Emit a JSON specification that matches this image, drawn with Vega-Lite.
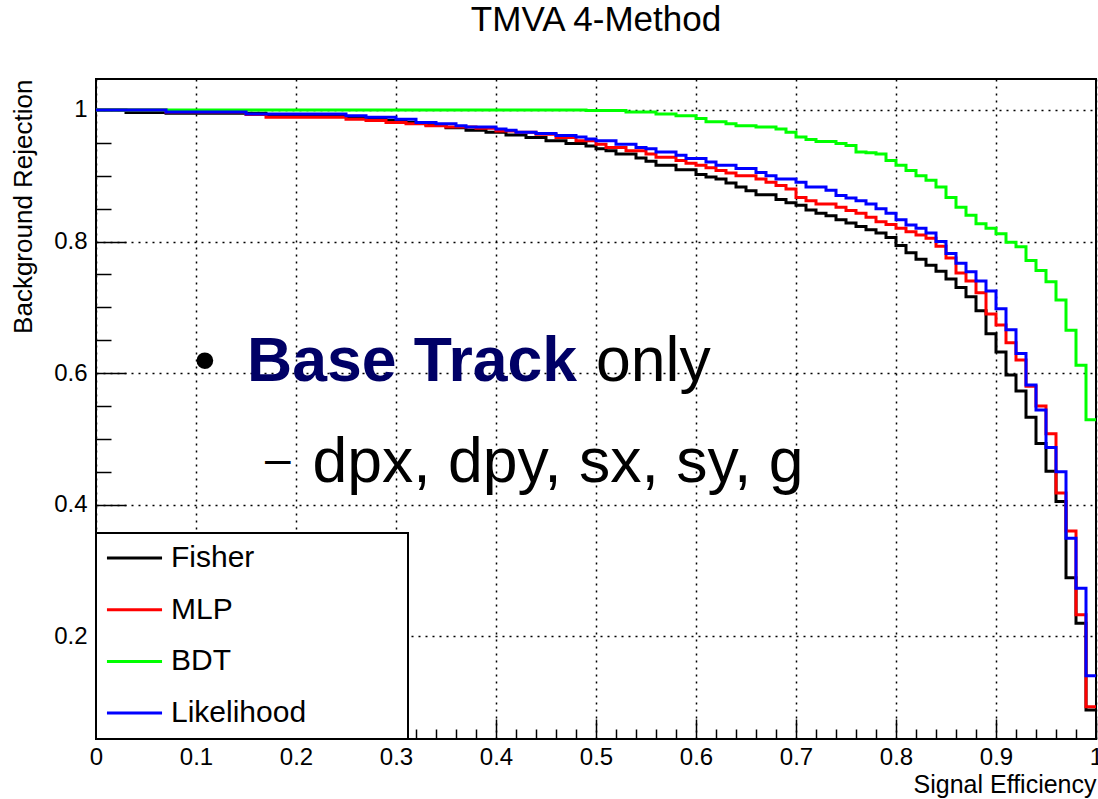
{
  "$schema": "https://vega.github.io/schema/vega-lite/v6.json",
  "width": 1000,
  "height": 660,
  "autosize": {"type": "none"},
  "padding": {"left": 96, "top": 79, "right": 2, "bottom": 60},
  "background": "white",
  "title": {"text": "TMVA 4-Method", "fontSize": 35, "font": "Liberation Sans", "fontWeight": "normal", "color": "black", "anchor": "middle", "baseline": "alphabetic", "offset": 13},
  "data": {"values": [
    {"m":"Fisher","x":0,"y":1},{"m":"Fisher","x":0.03,"y":0.996},{"m":"Fisher","x":0.07,"y":0.995},{"m":"Fisher","x":0.17,"y":0.993},{"m":"Fisher","x":0.22,"y":0.99},{"m":"Fisher","x":0.26,"y":0.987},{"m":"Fisher","x":0.29,"y":0.984},{"m":"Fisher","x":0.31,"y":0.981},{"m":"Fisher","x":0.33,"y":0.977},{"m":"Fisher","x":0.35,"y":0.973},{"m":"Fisher","x":0.37,"y":0.969},{"m":"Fisher","x":0.39,"y":0.966},{"m":"Fisher","x":0.41,"y":0.962},{"m":"Fisher","x":0.43,"y":0.958},{"m":"Fisher","x":0.45,"y":0.953},{"m":"Fisher","x":0.47,"y":0.949},{"m":"Fisher","x":0.49,"y":0.945},{"m":"Fisher","x":0.5,"y":0.941},{"m":"Fisher","x":0.51,"y":0.938},{"m":"Fisher","x":0.52,"y":0.933},{"m":"Fisher","x":0.54,"y":0.927},{"m":"Fisher","x":0.55,"y":0.922},{"m":"Fisher","x":0.56,"y":0.916},{"m":"Fisher","x":0.58,"y":0.909},{"m":"Fisher","x":0.6,"y":0.902},{"m":"Fisher","x":0.61,"y":0.898},{"m":"Fisher","x":0.62,"y":0.895},{"m":"Fisher","x":0.63,"y":0.889},{"m":"Fisher","x":0.64,"y":0.883},{"m":"Fisher","x":0.65,"y":0.877},{"m":"Fisher","x":0.66,"y":0.871},{"m":"Fisher","x":0.68,"y":0.864},{"m":"Fisher","x":0.69,"y":0.859},{"m":"Fisher","x":0.7,"y":0.855},{"m":"Fisher","x":0.71,"y":0.848},{"m":"Fisher","x":0.72,"y":0.843},{"m":"Fisher","x":0.73,"y":0.839},{"m":"Fisher","x":0.74,"y":0.833},{"m":"Fisher","x":0.75,"y":0.828},{"m":"Fisher","x":0.76,"y":0.823},{"m":"Fisher","x":0.77,"y":0.818},{"m":"Fisher","x":0.78,"y":0.813},{"m":"Fisher","x":0.79,"y":0.806},{"m":"Fisher","x":0.8,"y":0.794},{"m":"Fisher","x":0.81,"y":0.783},{"m":"Fisher","x":0.82,"y":0.773},{"m":"Fisher","x":0.83,"y":0.764},{"m":"Fisher","x":0.84,"y":0.755},{"m":"Fisher","x":0.85,"y":0.743},{"m":"Fisher","x":0.86,"y":0.73},{"m":"Fisher","x":0.87,"y":0.716},{"m":"Fisher","x":0.88,"y":0.695},{"m":"Fisher","x":0.89,"y":0.66},{"m":"Fisher","x":0.9,"y":0.632},{"m":"Fisher","x":0.91,"y":0.597},{"m":"Fisher","x":0.92,"y":0.573},{"m":"Fisher","x":0.93,"y":0.533},{"m":"Fisher","x":0.94,"y":0.493},{"m":"Fisher","x":0.95,"y":0.451},{"m":"Fisher","x":0.96,"y":0.405},{"m":"Fisher","x":0.97,"y":0.289},{"m":"Fisher","x":0.98,"y":0.22},{"m":"Fisher","x":0.99,"y":0.088},{"m":"Fisher","x":1,"y":0.088},
    {"m":"MLP","x":0,"y":1},{"m":"MLP","x":0.07,"y":0.997},{"m":"MLP","x":0.15,"y":0.993},{"m":"MLP","x":0.17,"y":0.989},{"m":"MLP","x":0.25,"y":0.986},{"m":"MLP","x":0.27,"y":0.984},{"m":"MLP","x":0.29,"y":0.981},{"m":"MLP","x":0.31,"y":0.979},{"m":"MLP","x":0.33,"y":0.976},{"m":"MLP","x":0.35,"y":0.974},{"m":"MLP","x":0.38,"y":0.972},{"m":"MLP","x":0.4,"y":0.968},{"m":"MLP","x":0.42,"y":0.966},{"m":"MLP","x":0.44,"y":0.963},{"m":"MLP","x":0.46,"y":0.958},{"m":"MLP","x":0.48,"y":0.953},{"m":"MLP","x":0.5,"y":0.948},{"m":"MLP","x":0.51,"y":0.943},{"m":"MLP","x":0.53,"y":0.938},{"m":"MLP","x":0.55,"y":0.933},{"m":"MLP","x":0.56,"y":0.928},{"m":"MLP","x":0.58,"y":0.923},{"m":"MLP","x":0.59,"y":0.919},{"m":"MLP","x":0.6,"y":0.916},{"m":"MLP","x":0.61,"y":0.912},{"m":"MLP","x":0.62,"y":0.908},{"m":"MLP","x":0.63,"y":0.904},{"m":"MLP","x":0.64,"y":0.9},{"m":"MLP","x":0.66,"y":0.895},{"m":"MLP","x":0.67,"y":0.89},{"m":"MLP","x":0.68,"y":0.885},{"m":"MLP","x":0.69,"y":0.88},{"m":"MLP","x":0.7,"y":0.867},{"m":"MLP","x":0.71,"y":0.862},{"m":"MLP","x":0.72,"y":0.857},{"m":"MLP","x":0.74,"y":0.852},{"m":"MLP","x":0.75,"y":0.847},{"m":"MLP","x":0.76,"y":0.843},{"m":"MLP","x":0.77,"y":0.837},{"m":"MLP","x":0.78,"y":0.83},{"m":"MLP","x":0.79,"y":0.826},{"m":"MLP","x":0.8,"y":0.82},{"m":"MLP","x":0.81,"y":0.815},{"m":"MLP","x":0.82,"y":0.81},{"m":"MLP","x":0.83,"y":0.805},{"m":"MLP","x":0.84,"y":0.793},{"m":"MLP","x":0.85,"y":0.775},{"m":"MLP","x":0.86,"y":0.752},{"m":"MLP","x":0.87,"y":0.74},{"m":"MLP","x":0.88,"y":0.722},{"m":"MLP","x":0.89,"y":0.69},{"m":"MLP","x":0.9,"y":0.673},{"m":"MLP","x":0.91,"y":0.646},{"m":"MLP","x":0.92,"y":0.62},{"m":"MLP","x":0.93,"y":0.58},{"m":"MLP","x":0.94,"y":0.55},{"m":"MLP","x":0.95,"y":0.508},{"m":"MLP","x":0.96,"y":0.418},{"m":"MLP","x":0.97,"y":0.36},{"m":"MLP","x":0.98,"y":0.233},{"m":"MLP","x":0.99,"y":0.093},{"m":"MLP","x":1,"y":0.093},
    {"m":"BDT","x":0,"y":1},{"m":"BDT","x":0.49,"y":0.999},{"m":"BDT","x":0.53,"y":0.997},{"m":"BDT","x":0.56,"y":0.994},{"m":"BDT","x":0.58,"y":0.991},{"m":"BDT","x":0.6,"y":0.987},{"m":"BDT","x":0.61,"y":0.982},{"m":"BDT","x":0.63,"y":0.979},{"m":"BDT","x":0.64,"y":0.976},{"m":"BDT","x":0.66,"y":0.974},{"m":"BDT","x":0.68,"y":0.971},{"m":"BDT","x":0.69,"y":0.966},{"m":"BDT","x":0.7,"y":0.959},{"m":"BDT","x":0.71,"y":0.955},{"m":"BDT","x":0.72,"y":0.952},{"m":"BDT","x":0.74,"y":0.949},{"m":"BDT","x":0.75,"y":0.946},{"m":"BDT","x":0.76,"y":0.936},{"m":"BDT","x":0.77,"y":0.935},{"m":"BDT","x":0.78,"y":0.933},{"m":"BDT","x":0.79,"y":0.923},{"m":"BDT","x":0.8,"y":0.916},{"m":"BDT","x":0.81,"y":0.908},{"m":"BDT","x":0.82,"y":0.9},{"m":"BDT","x":0.83,"y":0.893},{"m":"BDT","x":0.84,"y":0.883},{"m":"BDT","x":0.85,"y":0.867},{"m":"BDT","x":0.86,"y":0.852},{"m":"BDT","x":0.87,"y":0.84},{"m":"BDT","x":0.88,"y":0.827},{"m":"BDT","x":0.89,"y":0.82},{"m":"BDT","x":0.9,"y":0.812},{"m":"BDT","x":0.91,"y":0.799},{"m":"BDT","x":0.92,"y":0.792},{"m":"BDT","x":0.93,"y":0.771},{"m":"BDT","x":0.94,"y":0.756},{"m":"BDT","x":0.95,"y":0.739},{"m":"BDT","x":0.96,"y":0.711},{"m":"BDT","x":0.97,"y":0.665},{"m":"BDT","x":0.98,"y":0.612},{"m":"BDT","x":0.99,"y":0.529},{"m":"BDT","x":1,"y":0.529},
    {"m":"Likelihood","x":0,"y":1},{"m":"Likelihood","x":0.07,"y":0.997},{"m":"Likelihood","x":0.15,"y":0.994},{"m":"Likelihood","x":0.25,"y":0.991},{"m":"Likelihood","x":0.27,"y":0.989},{"m":"Likelihood","x":0.3,"y":0.986},{"m":"Likelihood","x":0.32,"y":0.981},{"m":"Likelihood","x":0.34,"y":0.979},{"m":"Likelihood","x":0.36,"y":0.976},{"m":"Likelihood","x":0.37,"y":0.974},{"m":"Likelihood","x":0.4,"y":0.971},{"m":"Likelihood","x":0.41,"y":0.969},{"m":"Likelihood","x":0.42,"y":0.966},{"m":"Likelihood","x":0.44,"y":0.964},{"m":"Likelihood","x":0.46,"y":0.961},{"m":"Likelihood","x":0.48,"y":0.959},{"m":"Likelihood","x":0.49,"y":0.956},{"m":"Likelihood","x":0.5,"y":0.953},{"m":"Likelihood","x":0.52,"y":0.948},{"m":"Likelihood","x":0.54,"y":0.943},{"m":"Likelihood","x":0.55,"y":0.941},{"m":"Likelihood","x":0.56,"y":0.936},{"m":"Likelihood","x":0.58,"y":0.931},{"m":"Likelihood","x":0.59,"y":0.926},{"m":"Likelihood","x":0.61,"y":0.921},{"m":"Likelihood","x":0.62,"y":0.916},{"m":"Likelihood","x":0.64,"y":0.911},{"m":"Likelihood","x":0.66,"y":0.905},{"m":"Likelihood","x":0.67,"y":0.9},{"m":"Likelihood","x":0.68,"y":0.895},{"m":"Likelihood","x":0.7,"y":0.89},{"m":"Likelihood","x":0.71,"y":0.883},{"m":"Likelihood","x":0.73,"y":0.878},{"m":"Likelihood","x":0.74,"y":0.87},{"m":"Likelihood","x":0.75,"y":0.866},{"m":"Likelihood","x":0.76,"y":0.862},{"m":"Likelihood","x":0.77,"y":0.857},{"m":"Likelihood","x":0.78,"y":0.85},{"m":"Likelihood","x":0.79,"y":0.843},{"m":"Likelihood","x":0.8,"y":0.833},{"m":"Likelihood","x":0.81,"y":0.825},{"m":"Likelihood","x":0.82,"y":0.82},{"m":"Likelihood","x":0.83,"y":0.813},{"m":"Likelihood","x":0.84,"y":0.8},{"m":"Likelihood","x":0.85,"y":0.782},{"m":"Likelihood","x":0.86,"y":0.767},{"m":"Likelihood","x":0.87,"y":0.754},{"m":"Likelihood","x":0.88,"y":0.74},{"m":"Likelihood","x":0.89,"y":0.725},{"m":"Likelihood","x":0.9,"y":0.698},{"m":"Likelihood","x":0.91,"y":0.666},{"m":"Likelihood","x":0.92,"y":0.63},{"m":"Likelihood","x":0.93,"y":0.582},{"m":"Likelihood","x":0.94,"y":0.544},{"m":"Likelihood","x":0.95,"y":0.487},{"m":"Likelihood","x":0.96,"y":0.45},{"m":"Likelihood","x":0.97,"y":0.349},{"m":"Likelihood","x":0.98,"y":0.273},{"m":"Likelihood","x":0.99,"y":0.14},{"m":"Likelihood","x":1,"y":0.14}
  ]},
  "layer": [
    {
      "mark": {"type": "line", "interpolate": "step-after", "strokeWidth": 3},
      "encoding": {
        "x": {"field": "x", "type": "quantitative", "scale": {"domain": [0, 1], "nice": false, "zero": false},
          "axis": {"orient": "bottom", "values": [0,0.1,0.2,0.3,0.4,0.5,0.6,0.7,0.8,0.9,1], "format": "~g", "tickSize": -20, "labelPadding": 26, "grid": true, "labelFlush": false, "labelOverlap": false, "title": "Signal Efficiency", "titleAnchor": "end", "titlePadding": 3, "titleFontSize": 25}},
        "y": {"field": "y", "type": "quantitative", "scale": {"domain": [0.044, 1.047], "nice": false, "zero": false},
          "axis": {"orient": "left", "values": [0.2,0.4,0.6,0.8,1], "format": "~g", "tickSize": -30, "labelPadding": 39, "grid": true, "labelOverlap": false, "title": "Background Rejection", "titleAnchor": "end", "titlePadding": 17, "titleFontSize": 26}},
        "color": {"field": "m", "type": "nominal",
          "scale": {"domain": ["Fisher","MLP","BDT","Likelihood"], "range": ["#000000","#ff0000","#00ff00","#0000ff"]},
          "legend": {"orient": "bottom-left", "offset": 0, "title": null, "symbolType": "M-2.04,0H2.04", "symbolStrokeWidth": 3, "symbolSize": 729, "symbolOffset": 13.5, "labelFontSize": 30, "labelFont": "Liberation Sans", "labelColor": "black", "labelLimit": 0, "labelOffset": 21.5, "padding": 10, "rowPadding": 21.7, "strokeColor": "black", "fillColor": "white", "zindex": 1,
            "labelExpr": "datum.label + '\u00a0\u00a0\u00a0\u00a0\u00a0\u00a0\u00a0\u00a0\u00a0\u00a0\u00a0\u200b'"}}
      }
    },
    {
      "data": {"values": [{}]},
      "mark": {"type": "point", "opacity": 0, "size": 0},
      "encoding": {
        "x": {"datum": 0.5, "type": "quantitative",
          "axis": {"orient": "bottom", "values": [0.02,0.04,0.06,0.08,0.12,0.14,0.16,0.18,0.22,0.24,0.26,0.28,0.32,0.34,0.36,0.38,0.42,0.44,0.46,0.48,0.52,0.54,0.56,0.58,0.62,0.64,0.66,0.68,0.72,0.74,0.76,0.78,0.82,0.84,0.86,0.88,0.92,0.94,0.96,0.98], "tickSize": -10, "labels": false, "grid": false, "title": null}},
        "y": {"datum": 0.5, "type": "quantitative",
          "axis": {"orient": "left", "values": [0.05,0.1,0.15,0.25,0.3,0.35,0.45,0.5,0.55,0.65,0.7,0.75,0.85,0.9,0.95], "tickSize": -15, "labels": false, "grid": false, "title": null}}
      }
    },
    {
      "data": {"values": [{}]},
      "mark": {"type": "text", "text": "•", "fontSize": 62, "font": "Liberation Sans", "align": "left", "baseline": "alphabetic", "color": "black"},
      "encoding": {"x": {"datum": 0.098, "type": "quantitative", "axis": null}, "y": {"datum": 0.588, "type": "quantitative", "axis": null}}
    },
    {
      "data": {"values": [{}]},
      "mark": {"type": "text", "text": "Base Track", "fontSize": 62.5, "font": "Liberation Sans", "fontWeight": "bold", "align": "left", "baseline": "alphabetic", "color": "#000066"},
      "encoding": {"x": {"datum": 0.151, "type": "quantitative", "axis": null}, "y": {"datum": 0.588, "type": "quantitative", "axis": null}}
    },
    {
      "data": {"values": [{}]},
      "mark": {"type": "text", "text": "only", "fontSize": 62.5, "font": "Liberation Sans", "align": "left", "baseline": "alphabetic", "color": "black"},
      "encoding": {"x": {"datum": 0.5, "type": "quantitative", "axis": null}, "y": {"datum": 0.588, "type": "quantitative", "axis": null}}
    },
    {
      "data": {"values": [{}]},
      "mark": {"type": "text", "text": "–", "fontSize": 46, "font": "Liberation Sans", "align": "left", "baseline": "alphabetic", "color": "black"},
      "encoding": {"x": {"datum": 0.169, "type": "quantitative", "axis": null}, "y": {"datum": 0.447, "type": "quantitative", "axis": null}}
    },
    {
      "data": {"values": [{}]},
      "mark": {"type": "text", "text": "dpx, dpy, sx, sy, g", "fontSize": 62.5, "font": "Liberation Sans", "align": "left", "baseline": "alphabetic", "color": "black"},
      "encoding": {"x": {"datum": 0.2166, "type": "quantitative", "axis": null}, "y": {"datum": 0.435, "type": "quantitative", "axis": null}}
    }
  ],
  "resolve": {"axis": {"x": "independent", "y": "independent"}},
  "config": {
    "font": "Liberation Sans",
    "view": {"stroke": "black", "strokeWidth": 2},
    "legend": {"strokeWidth": 2},
    "axis": {"domain": false, "gridColor": "black", "gridDash": [2, 5], "gridWidth": 1.5, "gridOpacity": 1, "tickColor": "black", "tickWidth": 1.5, "labelColor": "black", "labelFontSize": 24, "labelFont": "Liberation Sans", "titleFont": "Liberation Sans", "titleFontSize": 24, "titleFontWeight": "normal", "titleColor": "black"}
  }
}
